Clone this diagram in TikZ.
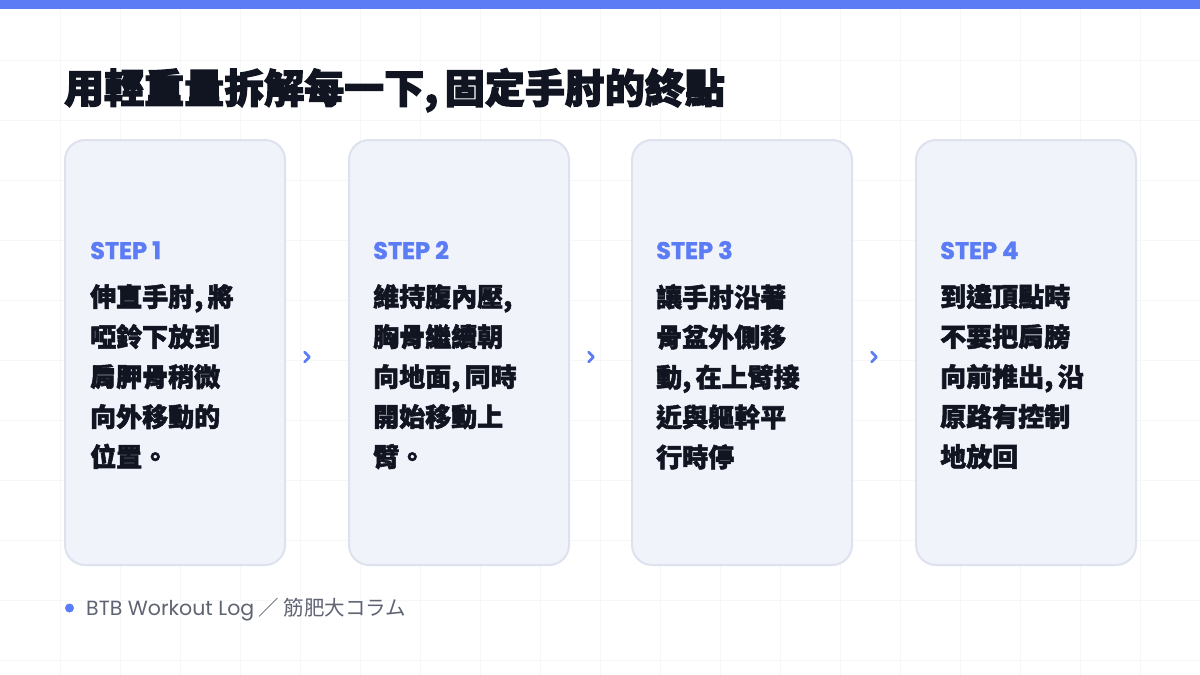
\documentclass[tikz,border=0pt]{standalone}
\usepackage{fontspec}
\setmainfont{Noto Sans CJK TC}
\newfontfamily\cjk[BoldFeatures={FakeBold=2}]{Noto Sans CJK TC}
\newfontfamily\cjkt[BoldFeatures={FakeBold=3}]{Noto Sans CJK TC}
\newfontfamily\lat[BoldFeatures={FakeBold=1.2}]{Poppins}
\begin{document}
\begin{tikzpicture}[x=1pt,y=-1pt,
  card/.style={draw=cardline,line width=2pt,fill=cardfill,rounded corners=20pt},
  steplbl/.style={anchor=base west,text=accent,font=\lat\bfseries\fontsize{24}{28}\selectfont},
  body/.style={anchor=base west,text=ink,align=left,font=\cjk\bfseries\fontsize{26}{40}\selectfont},
  chev/.style={draw=accent,line width=2.6pt,line cap=round,line join=round}]
\definecolor{accent}{HTML}{5B7CF5}
\definecolor{cardfill}{HTML}{F1F3FA}
\definecolor{cardline}{HTML}{DDE2EE}
\definecolor{ink}{HTML}{111522}
\definecolor{gridc}{HTML}{F6F7F9}
\definecolor{foot}{HTML}{5F6473}
\useasboundingbox (0,0) rectangle (1200,675);
\fill[white] (0,0) rectangle (1200,675);
\foreach \i in {60,120,...,1180} \draw[gridc,line width=0.8pt] (\i,0) -- (\i,675);
\foreach \j in {60,120,...,660} \draw[gridc,line width=0.8pt] (0,\j) -- (1200,\j);
\fill[accent] (0,0) rectangle (1200,9);
\node[anchor=base west,text=ink,inner sep=0,font=\cjkt\bfseries\fontsize{40}{44}\selectfont] (title) at (64,103) {用輕重量拆解每一下,\,固定手肘的終點};
\foreach \x in {65,349,632,916}{
  \draw[card] (\x,140) rectangle ++(220,425);
}
\node[steplbl,inner sep=0] (s1) at (90,259) {STEP 1};
\node[steplbl,inner sep=0] (s2) at (373,259) {STEP 2};
\node[steplbl,inner sep=0] (s3) at (656,259) {STEP 3};
\node[steplbl,inner sep=0] (s4) at (940,259) {STEP 4};
\node[body,inner sep=0,anchor=north west] (b1) at (90,284) {伸直手肘,\,將\\啞鈴下放到\\肩胛骨稍微\\向外移動的\\位置。};
\node[body,inner sep=0,anchor=north west] (b2) at (373,284) {維持腹內壓,\\胸骨繼續朝\\向地面,\,同時\\開始移動上\\臂。};
\node[body,inner sep=0,anchor=north west] (b3) at (656,284) {讓手肘沿著\\骨盆外側移\\動,\,在上臂接\\近與軀幹平\\行時停};
\node[body,inner sep=0,anchor=north west] (b4) at (940,284) {到達頂點時\\不要把肩膀\\向前推出,\,沿\\原路有控制\\地放回};
\foreach \x/\n in {307/c1,591/c2,874/c3}{
  \coordinate (\n) at (\x,357);
  \draw[chev] ([shift={(-2.5,-5)}]\n) -- ([shift={(2.5,0)}]\n) -- ([shift={(-2.5,5)}]\n);
}
\fill[accent] (69.5,608) circle (4.5);
\node[anchor=base west,inner sep=0,text=foot,font=\fontsize{20.5}{24}\selectfont] (ft) at (86,615) {{\lat BTB Workout Log} ／ 筋肥大コラム};
\end{tikzpicture}
\end{document}
